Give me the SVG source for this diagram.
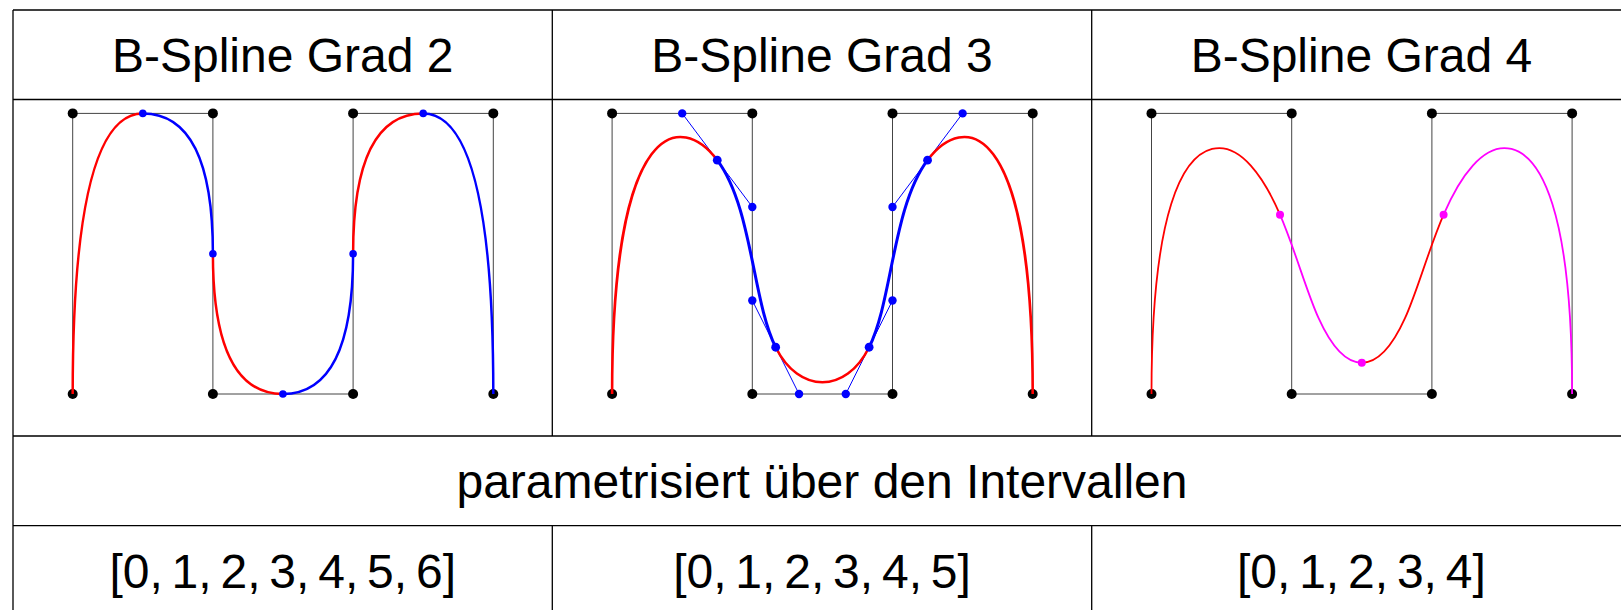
<svg xmlns="http://www.w3.org/2000/svg" width="1621" height="610" viewBox="0 0 1621 610">
<style>
.grid{stroke:#000;stroke-width:1.3;fill:none}
.poly{stroke:#444;stroke-width:1;fill:none}
.cp{fill:#000}
.t{font-family:"Liberation Sans",Arial,sans-serif;font-size:48px;fill:#000;text-anchor:middle}
.iv{word-spacing:-4.5px}
.r2{stroke:#f00;stroke-width:2.5;fill:none}
.b2{stroke:#00f;stroke-width:2.5;fill:none}
.r3{stroke:#f00;stroke-width:2.6;fill:none}
.b3{stroke:#00f;stroke-width:3;fill:none}
.bt{stroke:#00f;stroke-width:1;fill:none}
.r4{stroke:#f00;stroke-width:1.8;fill:none}
.m4{stroke:#f0f;stroke-width:1.8;fill:none}
.bd{fill:#00f}
.md{fill:#f0f}
</style>
<rect width="1621" height="610" fill="#fff"/>
<g id="table">
<path class="grid" d="M13,10H1625M13,99.5H1625M13,436H1625M13,525.7H1625M13,10V610M552.3,10V436M552.3,525.7V610M1091.7,10V436M1091.7,525.7V610"/>
</g>
<g id="headers">
<text class="t" x="282.7" y="71.7">B-Spline Grad 2</text>
<text class="t" x="822" y="71.7">B-Spline Grad 3</text>
<text class="t" x="1361.4" y="71.7">B-Spline Grad 4</text>
</g>
<g id="cell-grad2">
<path class="poly" d="M72.7,394V113.4H212.9V394H353.1V113.4H493.3V394"/>
<g class="cp">
<circle cx="72.7" cy="394" r="5"/><circle cx="72.7" cy="113.4" r="5"/><circle cx="212.9" cy="113.4" r="5"/><circle cx="212.9" cy="394" r="5"/>
<circle cx="353.1" cy="394" r="5"/><circle cx="353.1" cy="113.4" r="5"/><circle cx="493.3" cy="113.4" r="5"/><circle cx="493.3" cy="394" r="5"/>
</g>
<path class="r2" d="M72.7,394Q72.7,113.4 142.8,113.4"/>
<path class="b2" d="M142.8,113.4Q212.9,113.4 212.9,253.7"/>
<path class="r2" d="M212.9,253.7Q212.9,394 282.9,394"/>
<path class="b2" d="M282.9,394Q353.1,394 353.1,253.7"/>
<path class="r2" d="M353.1,253.7Q353.1,113.4 423.2,113.4"/>
<path class="b2" d="M423.2,113.4Q493.3,113.4 493.3,394"/>
<g class="bd">
<circle cx="142.8" cy="113.4" r="3.8"/><circle cx="212.9" cy="253.7" r="3.8"/><circle cx="282.9" cy="394" r="3.8"/><circle cx="353.1" cy="253.7" r="3.8"/><circle cx="423.2" cy="113.4" r="3.8"/>
</g>
</g>
<g id="cell-grad3">
<path class="poly" d="M612.1,394V113.4H752.3V394H892.5V113.4H1032.7V394"/>
<g class="cp">
<circle cx="612.1" cy="394" r="5"/><circle cx="612.1" cy="113.4" r="5"/><circle cx="752.3" cy="113.4" r="5"/><circle cx="752.3" cy="394" r="5"/>
<circle cx="892.5" cy="394" r="5"/><circle cx="892.5" cy="113.4" r="5"/><circle cx="1032.7" cy="113.4" r="5"/><circle cx="1032.7" cy="394" r="5"/>
</g>
<path class="bt" d="M682.2,113.4L752.3,206.93M752.3,300.47L799.03,394M845.77,394L892.5,300.47M892.5,206.93L962.6,113.4"/>
<path class="r3" d="M612.1,394C612.1,113.4 682.2,113.4 717.25,160.17"/>
<path class="b3" d="M717.25,160.17C752.3,206.93 752.3,300.47 775.67,347.23"/>
<path class="r3" d="M775.67,347.23C799.03,394 845.77,394 869.13,347.23"/>
<path class="b3" d="M869.13,347.23C892.5,300.47 892.5,206.93 927.55,160.17"/>
<path class="r3" d="M927.55,160.17C962.6,113.4 1032.7,113.4 1032.7,394"/>
<g class="bd">
<circle cx="682.2" cy="113.4" r="4.2"/><circle cx="717.25" cy="160.17" r="4.4"/><circle cx="752.3" cy="206.93" r="4.2"/><circle cx="752.3" cy="300.47" r="4.2"/>
<circle cx="775.67" cy="347.23" r="4.4"/><circle cx="799.03" cy="394" r="4.2"/><circle cx="845.77" cy="394" r="4.2"/><circle cx="869.13" cy="347.23" r="4.4"/>
<circle cx="892.5" cy="300.47" r="4.2"/><circle cx="892.5" cy="206.93" r="4.2"/><circle cx="927.55" cy="160.17" r="4.4"/><circle cx="962.6" cy="113.4" r="4.2"/>
</g>
</g>
<g id="cell-grad4">
<path class="poly" d="M1151.5,394V113.4H1291.7V394H1431.9V113.4H1572.1V394"/>
<g class="cp">
<circle cx="1151.5" cy="394" r="5"/><circle cx="1151.5" cy="113.4" r="5"/><circle cx="1291.7" cy="113.4" r="5"/><circle cx="1291.7" cy="394" r="5"/>
<circle cx="1431.9" cy="394" r="5"/><circle cx="1431.9" cy="113.4" r="5"/><circle cx="1572.1" cy="113.4" r="5"/><circle cx="1572.1" cy="394" r="5"/>
</g>
<path class="r4" d="M1151.5,394C1151.5,206.93 1183.87,156.11 1212.11,148.97C1240.34,141.82 1264.43,178.36 1280.02,214.72"/>
<path class="m4" d="M1280.02,214.72C1295.6,251.1 1306.06,290.56 1318.72,318.49C1331.38,346.42 1346.22,362.83 1361.8,362.83"/>
<path class="r4" d="M1361.8,362.83C1377.38,362.83 1392.22,346.42 1404.88,318.49C1417.54,290.56 1428,251.1 1443.58,214.72"/>
<path class="m4" d="M1443.58,214.72C1459.17,178.36 1483.26,141.82 1511.49,148.97C1539.73,156.11 1572.1,206.93 1572.1,394"/>
<g class="md">
<circle cx="1280.02" cy="214.72" r="4"/><circle cx="1361.8" cy="362.83" r="4"/><circle cx="1443.58" cy="214.72" r="4"/>
</g>
</g>
<g id="row-param">
<text class="t" x="822" y="498.3">parametrisiert über den Intervallen</text>
</g>
<g id="row-intervals">
<text class="t iv" x="282.7" y="588.3">[0, 1, 2, 3, 4, 5, 6]</text>
<text class="t iv" x="822" y="588.3">[0, 1, 2, 3, 4, 5]</text>
<text class="t iv" x="1361.4" y="588.3">[0, 1, 2, 3, 4]</text>
</g>
</svg>
